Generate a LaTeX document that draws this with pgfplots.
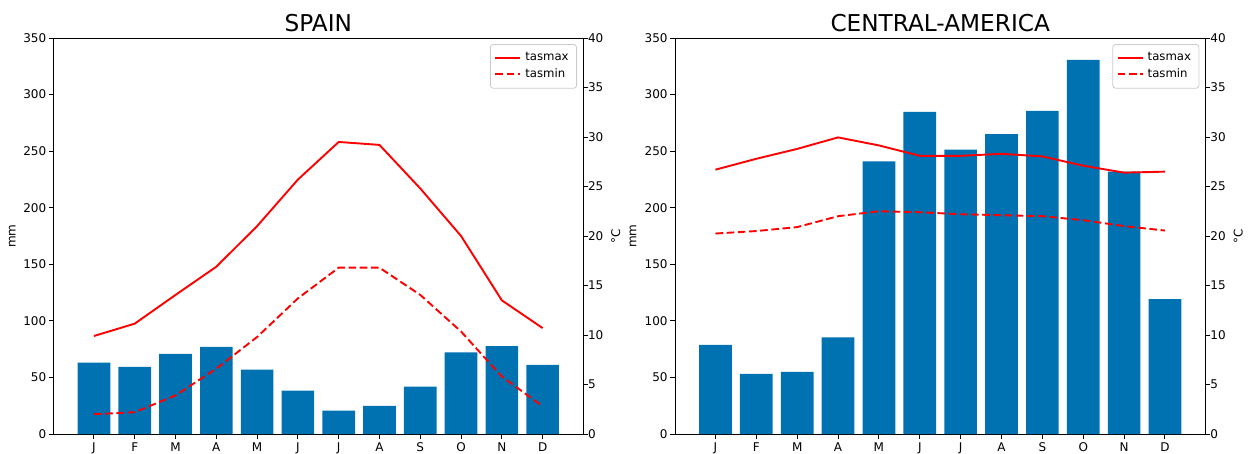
\documentclass[border=0pt]{standalone}
\usepackage{fontspec}
\setmainfont{DejaVu Sans}
\usepackage{pgfplots}
\pgfplotsset{compat=1.18}
\definecolor{barblue}{RGB}{0,114,178}
\pgfplotsset{
  base/.style={
    scale only axis, height=198pt,
    ymin=0, xmin=-0.99, xmax=11.99,
    tick align=outside, major tick length=2.5pt,
    axis line style={line width=0.5pt},
    every tick/.style={black, line width=0.5pt},
    tick label style={font=\fontsize{6}{7}\selectfont, inner sep=1pt},
    xticklabel style={inner sep=0.3pt, yshift=-1.5pt},
    /pgf/number format/assume math mode=true,
    label style={font=\fontsize{6}{7}\selectfont},
  },
  mmaxis/.style={base,
    ymax=350, ytick={0,50,...,350},
    xtick={0,...,11}, xticklabels={J,F,M,A,M,J,J,A,S,O,N,D},
    xtick pos=bottom, ytick pos=left,
    ylabel={mm},
    title style={font=\fontsize{11.6}{13}\selectfont, at={(0.5,1)}, anchor=base, yshift=-2.7pt},
  },
  tempaxis/.style={base,
    ymax=40, ytick={0,5,...,40},
    axis x line=none, axis y line*=right,
    yticklabel style={xshift=-1.2pt},
    ylabel={°C},
    legend style={at={(1,1)}, anchor=north east, xshift=-3pt, yshift=-3pt,
      draw=black!20, rounded corners=1.5pt, fill=white, fill opacity=0.8, text opacity=1,
      font=\fontsize{5.85}{7}\selectfont, row sep=-1.6pt, inner sep=2pt},
    legend cell align=left,
    legend image code/.code={\draw[#1] (0pt,0pt) -- (12.5pt,0pt);},
  },
  tmax/.style={draw=red, color=red, line width=0.95pt},
  tmin/.style={draw=red, color=red, line width=0.95pt, dash pattern=on 3.8pt off 1.8pt},
}
\begin{document}
\begin{tikzpicture}
\useasboundingbox (0,0) rectangle (626pt,-227pt);
% ---------- SPAIN ----------
\begin{axis}[mmaxis, at={(26.8pt,-217pt)}, anchor=south west, width=264.7pt,
  title={SPAIN},
  ylabel style={at={(axis description cs:-0.078,0.5)}, anchor=center}]
\addplot[ybar, bar width=0.8, fill=barblue, draw=none] coordinates {
(0,63.1) (1,59.3) (2,70.8) (3,77.0) (4,56.9) (5,38.3)
(6,20.6) (7,24.8) (8,41.9) (9,72.2) (10,77.6) (11,61.0)};
\end{axis}
\begin{axis}[tempaxis, at={(26.8pt,-217pt)}, anchor=south west, width=264.7pt,
  ylabel style={at={(axis description cs:1.062,0.5)}, anchor=center}]
\addplot[tmax] coordinates {
(0,9.9) (1,11.15) (2,14.05) (3,16.9) (4,21.0) (5,25.7)
(6,29.5) (7,29.2) (8,24.8) (9,20.0) (10,13.5) (11,10.7)};
\addlegendentry{tasmax}
\addplot[tmin] coordinates {
(0,2.0) (1,2.2) (2,3.9) (3,6.6) (4,9.8) (5,13.7)
(6,16.8) (7,16.8) (8,14.05) (9,10.35) (10,5.8) (11,2.8)};
\addlegendentry{tasmin}
\end{axis}
% ---------- CENTRAL-AMERICA ----------
\begin{axis}[mmaxis, at={(337.5pt,-217pt)}, anchor=south west, width=265.2pt,
  title={CENTRAL-AMERICA},
  ylabel style={at={(axis description cs:-0.079,0.5)}, anchor=center}]
\addplot[ybar, bar width=0.8, fill=barblue, draw=none] coordinates {
(0,78.7) (1,53.1) (2,54.9) (3,85.5) (4,240.9) (5,284.6)
(6,251.3) (7,265.1) (8,285.5) (9,330.6) (10,231.8) (11,119.1)};
\end{axis}
\begin{axis}[tempaxis, at={(337.5pt,-217pt)}, anchor=south west, width=265.2pt,
  ylabel style={at={(axis description cs:1.062,0.5)}, anchor=center}]
\addplot[tmax] coordinates {
(0,26.7) (1,27.8) (2,28.8) (3,29.96) (4,29.15) (5,28.1)
(6,28.1) (7,28.3) (8,28.04) (9,27.1) (10,26.4) (11,26.5)};
\addlegendentry{tasmax}
\addplot[tmin] coordinates {
(0,20.25) (1,20.5) (2,20.9) (3,22.0) (4,22.5) (5,22.4)
(6,22.2) (7,22.1) (8,22.0) (9,21.6) (10,21.0) (11,20.55)};
\addlegendentry{tasmin}
\end{axis}
\end{tikzpicture}
\end{document}
